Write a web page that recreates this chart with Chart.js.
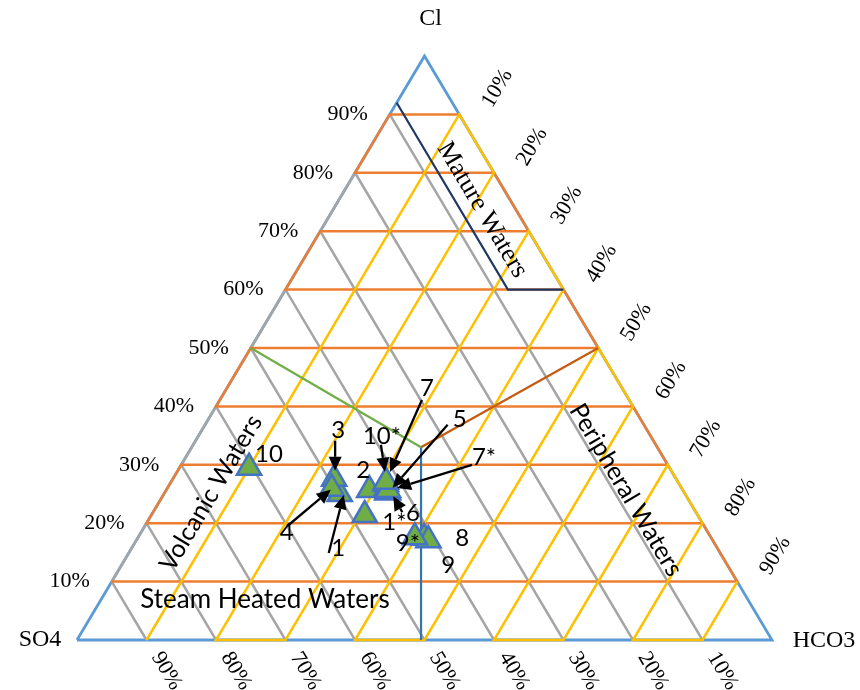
<!DOCTYPE html>
<html>
<head>
<meta charset="utf-8">
<script src="https://cdn.jsdelivr.net/npm/chart.js@4/dist/chart.umd.min.js"></script>
<style>
  html, body { margin: 0; padding: 0; background: #ffffff; }
  #wrap { width: 860px; height: 690px; }
</style>
</head>
<body>
<div id="wrap"><canvas id="c" width="860" height="690"></canvas></div>
<script>
// Sample compositions, percent of Cl + SO4 + HCO3
const samples = ['1', '2', '3', '4', '5', '6', '7', '8', '9', '10', '1*', '7*', '9*', '10*', ''];
const so4  = [49.7, 45.1, 49.2, 50.4, 42.5, 42.6, 42.2, 41.3, 40.9, 60.5, 42.7, 42.4, 42.6, 42.0, 47.9];
const cl   = [25.0, 25.7, 27.6, 25.9, 25.9, 25.3, 26.7, 17.5, 17.1, 29.5, 25.3, 25.7, 17.6, 27.1, 21.4];
const hco3 = [25.3, 29.2, 23.2, 23.7, 31.6, 32.1, 31.1, 41.2, 42.0, 10.0, 32.0, 31.9, 39.8, 30.9, 30.7];

// Grid levels and their tick labels
const gridLevels = [10, 20, 30, 40, 50, 60, 70, 80, 90];
const tickLabels = gridLevels.map(v => v + '%');

// Field boundaries (SO4, Cl, HCO3 in percent)
const matureSO4 = [8, 8, 0];
const matureCl = [92, 60, 60];
const matureHCO3 = [0, 32, 40];
const volcanicSO4 = [50, 34];
const volcanicCl = [50, 33];
const volcanicHCO3 = [0, 33];
const peripheralSO4 = [34, 0];
const peripheralCl = [33, 50];
const peripheralHCO3 = [33, 50];
const steamSO4 = [34, 50.5];
const steamCl = [33, 0];
const steamHCO3 = [33, 49.5];

// Ternary -> cartesian (x along the base toward HCO3, y toward Cl)
function tern(s, c, h) {
  const t = s + c + h;
  return { x: (h + c / 2) / t, y: c / t };
}
function path(sArr, cArr, hArr) {
  return sArr.map((s, i) => tern(s, cArr[i], hArr[i]));
}

// Zig-zag polylines for the three grid families
function clGrid() {
  const pts = [];
  gridLevels.forEach((k, i) => {
    const L = tern(100 - k, k, 0), R = tern(0, k, 100 - k);
    if (i % 2 === 0) pts.push(L, R); else pts.push(R, L);
  });
  return pts;
}
function hco3Grid() {
  const pts = [];
  gridLevels.forEach((k, i) => {
    const B = tern(100 - k, 0, k), R = tern(0, 100 - k, k);
    if (i % 2 === 0) pts.push(B, R); else pts.push(R, B);
  });
  return pts;
}
function so4Grid() {
  const pts = [];
  gridLevels.slice().reverse().forEach((k, i) => {
    const B = tern(k, 0, 100 - k), L = tern(k, 100 - k, 0);
    if (i % 2 === 0) pts.push(B, L); else pts.push(L, B);
  });
  return pts;
}

const samplePoints = samples.map((_, i) => tern(so4[i], cl[i], hco3[i]));

const lineDs = (data, color, width, order) => ({
  data, showLine: true, borderColor: color, borderWidth: width,
  pointRadius: 0, pointHoverRadius: 0, fill: false, tension: 0, clip: false, order
});

// Label placement relative to each sample marker (pixels)
const labelLayout = {
  '1':   { dx: -1.5, dy: 54, arrow: [-11, 59, 4, 1] },
  '2':   { dx: -6, dy: -20 },
  '3':   { dx: 4, dy: -49, arrow: [1, -38, 1, -8] },
  '4':   { dx: -45, dy: 44, arrow: [-44, 37, -1, 1] },
  '5':   { dx: 73, dy: -69, arrow: [61, -64, 6, -1] },
  '6':   { dx: 25, dy: 21 },
  '7':   { dx: 41, dy: -96, arrow: [36, -84, 4, -12] },
  '8':   { dx: 38, dy: 0 },
  '9':   { dx: 20, dy: 25 },
  '10':  { dx: 20, dy: -13 },
  '1*':  { dx: 7, dy: 30, arrow: [15, 20, 6, 4] },
  '7*':  { dx: 96, dy: -33, arrow: [84, -25, 9, -2] },
  '9*':  { dx: -7, dy: 6 },
  '10*': { dx: -4, dy: -45, arrow: [-5, -37, -1, -10] }
};

function drawText(ctx, text, x, y, font, angleDeg, align) {
  ctx.save();
  ctx.translate(x, y);
  ctx.rotate((angleDeg || 0) * Math.PI / 180);
  ctx.font = font;
  ctx.fillStyle = '#000000';
  ctx.textAlign = align || 'center';
  ctx.textBaseline = 'middle';
  ctx.fillText(text, 0, 0);
  ctx.restore();
}

function drawArrow(ctx, x1, y1, x2, y2) {
  const ang = Math.atan2(y2 - y1, x2 - x1);
  const head = 14, half = 6.5;
  const bx = x2 - head * Math.cos(ang), by = y2 - head * Math.sin(ang);
  ctx.save();
  ctx.strokeStyle = '#000000';
  ctx.fillStyle = '#000000';
  ctx.lineWidth = 2.3;
  ctx.beginPath();
  ctx.moveTo(x1, y1);
  ctx.lineTo(bx, by);
  ctx.stroke();
  ctx.beginPath();
  ctx.moveTo(x2, y2);
  ctx.lineTo(bx + half * Math.sin(ang), by - half * Math.cos(ang));
  ctx.lineTo(bx - half * Math.sin(ang), by + half * Math.cos(ang));
  ctx.closePath();
  ctx.fill();
  ctx.restore();
}

const ternaryText = {
  id: 'ternaryText',
  afterDatasetsDraw(chart) {
    const ctx = chart.ctx;
    const xs = chart.scales.x, ys = chart.scales.y;
    const P = (s, c, h) => {
      const t = tern(s, c, h);
      return { x: xs.getPixelForValue(t.x), y: ys.getPixelForValue(t.y) };
    };
    const serif = '"Liberation Serif", "Times New Roman", serif';
    const sans = 'Lato, "Liberation Sans", sans-serif';

    // Apex names
    const top = P(0, 100, 0), left = P(100, 0, 0), right = P(0, 0, 100);
    drawText(ctx, 'Cl', top.x + 6, top.y - 37, '24px ' + serif);
    drawText(ctx, 'SO4', left.x - 37, left.y, '24px ' + serif);
    drawText(ctx, 'HCO3', right.x + 52, right.y + 1, '24px ' + serif);

    // Percentage ticks
    gridLevels.forEach((k, i) => {
      const pl = P(100 - k, k, 0);
      drawText(ctx, tickLabels[i], pl.x - 22, pl.y, '22px ' + serif, 0, 'right');
      const pr = P(0, 100 - k, k);
      drawText(ctx, tickLabels[i], pr.x + 38, pr.y - 26, '22px ' + serif, -59.2);
      const pb = P(k, 0, 100 - k);
      drawText(ctx, tickLabels[i], pb.x + 20, pb.y + 31, '22px ' + serif, 59.2);
    });

    // Field names
    drawText(ctx, 'Mature Waters', 482, 210, '26px ' + serif, 59.2);
    drawText(ctx, 'Peripheral Waters', 626, 490, '25px ' + sans, 59.2);
    drawText(ctx, 'Volcanic Waters', 211, 493, '25px ' + sans, -59.3);
    drawText(ctx, 'Steam Heated Waters', 265, 600, '26px ' + sans);

    // Sample labels and pointer arrows
    const meta = chart.getDatasetMeta(0);
    samples.forEach((name, i) => {
      const lay = labelLayout[name];
      if (!lay) return;
      const el = meta.data[i];
      if (lay.arrow) {
        const a = lay.arrow;
        drawArrow(ctx, el.x + a[0], el.y + a[1], el.x + a[2], el.y + a[3]);
      }
      drawText(ctx, name, el.x + lay.dx, el.y + lay.dy, '24px ' + sans);
    });
  }
};

new Chart(document.getElementById('c'), {
  type: 'scatter',
  data: {
    datasets: [
      {
        label: 'Samples',
        data: samplePoints,
        pointStyle: 'triangle',
        pointRadius: 14,
        pointHoverRadius: 14,
        backgroundColor: '#70AD47',
        borderColor: '#4472C4',
        borderWidth: 2.5,
        showLine: false,
        clip: false,
        order: 0
      },
      lineDs(path(matureSO4, matureCl, matureHCO3), '#203864', 2.2, 1),
      lineDs(path(volcanicSO4, volcanicCl, volcanicHCO3), '#70AD47', 2.2, 1),
      lineDs(path(peripheralSO4, peripheralCl, peripheralHCO3), '#C55A11', 2.2, 1),
      lineDs(path(steamSO4, steamCl, steamHCO3), '#2E75B6', 2.2, 1),
      lineDs(hco3Grid(), '#FFC000', 2.5, 2),
      lineDs(clGrid(), '#ED7D31', 2.5, 3),
      lineDs(so4Grid(), '#A5A5A5', 2.5, 4),
      lineDs([tern(100, 0, 0), tern(0, 0, 100), tern(0, 100, 0), tern(100, 0, 0)], '#5B9BD5', 2.8, 5)
    ]
  },
  options: {
    responsive: false,
    animation: false,
    events: [],
    layout: { padding: { left: 77, right: 88, top: 56, bottom: 50 } },
    scales: {
      x: { type: 'linear', min: 0, max: 1, display: false },
      y: { type: 'linear', min: 0, max: 1, display: false }
    },
    plugins: { legend: { display: false }, tooltip: { enabled: false } }
  },
  plugins: [ternaryText]
});
</script>
</body>
</html>
